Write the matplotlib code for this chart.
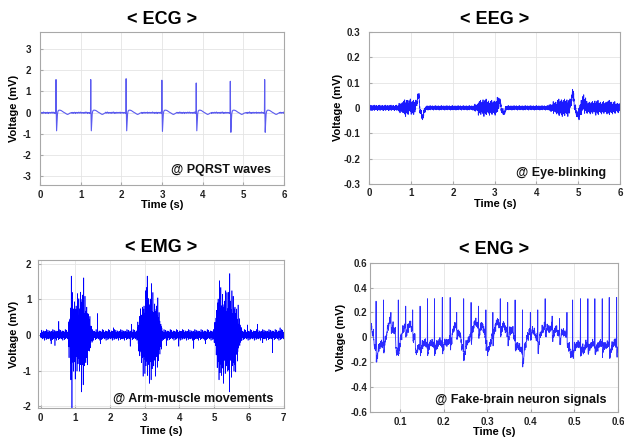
import numpy as np
import matplotlib
matplotlib.use("Agg")
import matplotlib.pyplot as plt

plt.rcParams["font.family"] = ["Liberation Sans", "DejaVu Sans"]
plt.rcParams["axes.unicode_minus"] = False

# wiggle pattern (relative units)
NOISE = [0.12, -0.35, 0.48, -0.08, 0.27, -0.61, 0.05, 0.33, -0.22, 0.91,
         -0.44, 0.16, -0.05, 0.38, -0.73, 0.21, -0.29, 0.07, 0.55, -0.14,
         -0.96, 0.31, -0.18, 0.42, 0.02, -0.51, 0.24, -0.09, 0.67, -0.33,
         0.11, -0.26, 0.84, -0.12, 0.19, -0.58, 0.36, -0.03, -0.41, 0.29,
         0.09, -0.69, 0.47, -0.17, 0.13, -0.31, 1.0, -0.23, 0.04, 0.39,
         -0.86, 0.18, -0.07, 0.26, -0.39, 0.58, -0.15, 0.08, -0.47, 0.34,
         -0.02, 0.22, -0.28, 0.76, -0.54, 0.15, -0.11]
# spikier pattern for the muscle trace: dense core, a few large swings
EMG_NOISE = [0.17, -0.35, 0.11, -0.43, 0.25, -0.07, 0.38, -0.2, 0.04, -0.31,
             0.7, -0.25, 0.13, -0.39, 0.29, -0.1, 0.21, -0.46, 0.07, 0.34,
             -0.15, 0.43, -0.6, 0.2, -0.06, 0.27, -0.36, 0.1, -0.22, 0.41,
             -0.13, 0.31, -0.49, 0.15, 0.03, -0.27, 0.6, -0.18, 0.36, -0.08,
             0.24, -0.41, 0.06, -0.29, 0.46, -0.14, 0.18, -0.8, 0.28, -0.04,
             0.39, -0.24, 0.08, -0.34, 0.22, -0.17, 0.5, -0.11, 0.14, -0.42,
             0.56, -0.21, 0.32, -0.03, 0.17, -0.38, 0.11, -0.28, 0.42, -0.15,
             0.07, -0.32, 0.27, -0.7, 0.35, -0.08, 0.2, -0.45, 0.13, 0.29,
             -0.2, 0.8, -0.25, 0.1, -0.35, 0.22, -0.13, 0.38, -0.56]

# ---- ECG ----
ECG_DT = 0.01
ECG_T_END = 6.0
ECG_NOISE_AMP = 0.04
ECG_BEAT_TIMES = [0.394, 1.248, 2.118, 2.997, 3.842, 4.680, 5.525]
ECG_R_PEAKS = [1.56, 1.56, 1.60, 1.53, 1.40, 1.48, 1.56]
ECG_S_TROUGHS = [-0.85, -0.85, -0.85, -0.88, -0.85, -0.92, -0.92]
# PQRST shape around each R peak: offsets (s) and values (mV); "R"/"S" per beat
ECG_WAVE_OFFSETS = [-0.030, -0.015, -0.006, 0.0, 0.006, 0.014, 0.024, 0.036,
                    0.05, 0.07, 0.10, 0.13, 0.16, 0.19, 0.22, 0.25, 0.28,
                    0.31, 0.34, 0.37]
ECG_WAVE_VALUES = [0.0, -0.04, 0.0, "R", 0.0, "S", -0.45, -0.05,
                   0.08, 0.12, 0.12, 0.10, 0.06, 0.02, -0.01, -0.05, -0.08,
                   -0.06, -0.02, 0.0]

# ---- EEG ----
EEG_DT = 0.002
EEG_BIN = 0.1
EEG_NOISE_AMP = [0.011] * 7 + [0.02, 0.035, 0.03, 0.03, 0.012, 0.012] + \
    [0.009] * 12 + [0.015, 0.03, 0.035, 0.03, 0.03, 0.03, 0.012] + \
    [0.009] * 11 + [0.015, 0.025, 0.035, 0.035, 0.035, 0.02, 0.012] + \
    [0.03, 0.035, 0.025, 0.025, 0.03, 0.025, 0.025, 0.03, 0.025, 0.02]
EEG_SLOW_BIN = 0.05
EEG_SLOW_T = [0.95, 1.10, 1.15, 1.20, 1.25, 1.30, 3.05, 3.10, 3.15, 3.20,
              4.80, 4.85, 4.90, 4.95, 5.00, 5.10, 5.15]
EEG_SLOW_V = [0.008, 0.02, 0.045, -0.015, -0.035, -0.01, 0.012, 0.025,
              -0.012, -0.02, 0.02, 0.055, 0.0, -0.028, -0.018, 0.02, 0.01]

# ---- EMG ----
EMG_DT = 0.002
EMG_T_END = 7.0
EMG_BIN = 0.05
EMG_BASE_AMP = 0.19
EMG_BURST_START = [0.80, 2.80, 5.00]
EMG_BURST_ENV = [
    [0.8, 1.8, 1.7, 1.55, 1.45, 1.45, 1.7, 2.0, 2.0, 1.55, 1.3, 1.05, 0.65, 0.35],
    [0.65, 1.05, 1.3, 1.45, 1.55, 1.9, 1.7, 1.8, 1.7, 1.45, 1.45, 1.3, 0.9, 0.5],
    [0.5, 1.15, 1.8, 1.9, 1.9, 1.7, 1.55, 1.7, 2.0, 1.7, 1.55, 1.7, 1.3, 1.05,
     0.65, 0.35],
]
EMG_SPIKE_T = [0.30, 0.41, 0.52, 0.88, 0.90, 1.64, 1.72, 2.10, 2.58, 2.62,
               3.07, 3.62, 3.98, 4.41, 4.75, 5.45, 5.96, 6.25, 6.40, 6.68,
               6.90]
EMG_SPIKE_V = [-0.25, -0.3, 0.38, 1.65, -2.05, 0.6, -0.25, 0.2, -0.32, 0.3,
               1.65, -0.3, -0.32, -0.38, -0.25, 1.72, 0.28, 0.3, -0.22, -0.5,
               0.2]

# ---- ENG ----
ENG_DT = 0.0005
ENG_T0 = 0.030
ENG_BIN = 0.005
ENG_NOISE_AMP = 0.045
ENG_DRIFT = [0.10, 0.03, -0.08, -0.12, -0.07, -0.06, -0.05, 0.00, 0.08, 0.14,
             0.10, 0.05, -0.12, -0.06, 0.00, 0.06, 0.10, 0.08, 0.10, 0.07,
             0.02, -0.12, -0.08, -0.06, -0.05, -0.05, -0.06, -0.05, -0.05, -0.06,
             -0.05, -0.05, -0.04, -0.05, -0.04, -0.05, -0.03, 0.00, 0.06, 0.10,
             0.06, 0.02, -0.08, -0.10, -0.05, -0.03, 0.02, 0.08, 0.12, 0.10,
             0.08, 0.10, 0.05, -0.02, -0.10, -0.05, 0.02, 0.08, 0.12, 0.10,
             0.08, 0.10, 0.06, 0.02, 0.06, 0.05, 0.00, -0.05, -0.08, -0.10,
             -0.14, -0.06, 0.00, 0.05, 0.06, 0.04, 0.00, -0.03, 0.02, 0.06,
             0.10, 0.08, 0.06, 0.08, 0.05, 0.06, 0.04, 0.02, 0.04, 0.03,
             0.02, -0.06, -0.15, -0.08, -0.07, -0.06, -0.06, -0.07, -0.10, -0.06,
             -0.06, -0.07, -0.05, -0.06, -0.07, -0.06, -0.05, -0.06, -0.07, -0.06,
             -0.10, -0.06, -0.05, -0.06]
ENG_SPIKE_T = [0.045, 0.062, 0.079, 0.096, 0.113, 0.129, 0.146, 0.163, 0.179,
               0.197, 0.215, 0.230, 0.246, 0.263, 0.280, 0.297, 0.313, 0.330,
               0.347, 0.364, 0.381, 0.399, 0.416, 0.433, 0.449, 0.466, 0.483,
               0.496, 0.514, 0.531, 0.547, 0.564, 0.580, 0.597]
ENG_SPIKE_H = [0.29, 0.30, 0.20, 0.30, 0.25, 0.22, 0.25, 0.31, 0.31, 0.32,
               0.32, 0.20, 0.31, 0.28, 0.25, 0.22, 0.20, 0.31, 0.28, 0.30,
               0.22, 0.20, 0.22, 0.31, 0.17, 0.15, 0.20, 0.30, 0.31, 0.31,
               0.31, 0.31, 0.32, 0.32]
ENG_SPIKE_TAIL = [-0.08, -0.07, -0.06, -0.05, -0.04, -0.03, -0.02, -0.01]


def tiled(pattern, n, shift=0):
    return np.roll(np.resize(np.array(pattern, float), n), shift)


def smooth(x, n):
    return np.convolve(x, np.ones(n) / n, mode="same")


def per_bin(bin_len, dt):
    return int(np.floor(bin_len / dt + 0.5))


def ecg_trace():
    grid = np.arange(0, ECG_T_END + ECG_DT / 2, ECG_DT)
    base = ECG_NOISE_AMP * tiled(NOISE, len(grid))
    keep = np.ones(len(grid), bool)
    t_pts, v_pts = [], []
    for bt, r, s in zip(ECG_BEAT_TIMES, ECG_R_PEAKS, ECG_S_TROUGHS):
        keep &= (grid < bt + ECG_WAVE_OFFSETS[0]) | (grid > bt + ECG_WAVE_OFFSETS[-1])
        for off, val in zip(ECG_WAVE_OFFSETS, ECG_WAVE_VALUES):
            t_pts.append(bt + off)
            v_pts.append(r if val == "R" else s if val == "S" else val)
    t = np.concatenate([grid[keep], t_pts])
    v = np.concatenate([base[keep], v_pts])
    order = np.argsort(t)
    return t[order], v[order]


def eeg_trace():
    amp = np.repeat(EEG_NOISE_AMP, per_bin(EEG_BIN, EEG_DT))
    t = np.arange(len(amp)) * EEG_DT
    slow_bins = np.zeros(per_bin(6.0, EEG_SLOW_BIN))
    for st, sv in zip(EEG_SLOW_T, EEG_SLOW_V):
        slow_bins[per_bin(st, EEG_SLOW_BIN)] = sv
    slow = smooth(np.repeat(slow_bins, per_bin(EEG_SLOW_BIN, EEG_DT)), 9)
    return t, slow + amp * tiled(NOISE, len(t), 11)


def emg_trace():
    env = np.full(per_bin(EMG_T_END, EMG_BIN), EMG_BASE_AMP)
    for start, levels in zip(EMG_BURST_START, EMG_BURST_ENV):
        i0 = per_bin(start, EMG_BIN)
        env[i0:i0 + len(levels)] = levels
    amp = np.repeat(env, per_bin(EMG_BIN, EMG_DT))
    t = np.arange(len(amp)) * EMG_DT
    v = amp * tiled(EMG_NOISE, len(t), 5)
    for st, sv in zip(EMG_SPIKE_T, EMG_SPIKE_V):
        v[per_bin(st, EMG_DT)] = sv
    return t, v


def eng_trace():
    drift = smooth(np.repeat(ENG_DRIFT, per_bin(ENG_BIN, ENG_DT)), 4)
    t = ENG_T0 + np.arange(len(drift)) * ENG_DT
    v = drift + ENG_NOISE_AMP * tiled(NOISE, len(t), 23)
    for st, h in zip(ENG_SPIKE_T, ENG_SPIKE_H):
        i = per_bin(st - ENG_T0, ENG_DT)
        if i >= len(v):
            continue
        v[i] = h
        for k, d in enumerate(ENG_SPIKE_TAIL):
            if i + 1 + k < len(v):
                v[i + 1 + k] += d
    return t, v


PANELS = [
    dict(title="< ECG >", note="@ PQRST waves", trace=ecg_trace,
         rect=[0.0641, 0.5805, 0.391, 0.347], color="#5b5bf0", lw=0.8,
         xlim=(0, 6), ylim=(-3.4, 3.8),
         xticks=[0, 1, 2, 3, 4, 5, 6], xlabels=["0", "1", "2", "3", "4", "5", "6"],
         yticks=[-3, -2, -1, 0, 1, 2, 3], ylabels=["-3", "-2", "-1", "0", "1", "2", "3"],
         note_xy=(0.945, 0.078), xlab_y=-0.10, ylab_x=-0.088, ypad=6.5, xpad=3.5),
    dict(title="< EEG >", note="@ Eye-blinking", trace=eeg_trace,
         rect=[0.5921, 0.5828, 0.4014, 0.345], color="#1a1aff", lw=0.6,
         xlim=(0, 6), ylim=(-0.3, 0.295),
         xticks=[0, 1, 2, 3, 4, 5, 6], xlabels=["0", "1", "2", "3", "4", "5", "6"],
         yticks=[-0.3, -0.2, -0.1, 0, 0.1, 0.2, 0.3],
         ylabels=["-0.3", "-0.2", "-0.1", "0", "0.1", "0.2", "0.3"],
         note_xy=(0.944, 0.055), xlab_y=-0.10, ylab_x=-0.107, ypad=6.5, xpad=3.0),
    dict(title="< EMG >", note="@ Arm-muscle movements", trace=emg_trace,
         rect=[0.0614, 0.0748, 0.393, 0.3356], color="#0000ff", lw=0.45,
         xlim=(-0.07, 7), ylim=(-2.05, 2.1),
         xticks=[0, 1, 2, 3, 4, 5, 6, 7],
         xlabels=["0", "1", "2", "3", "4", "5", "6", "7"],
         yticks=[-2, -1, 0, 1, 2], ylabels=["-2", "-1", "0", "1", "2"],
         note_xy=(0.958, 0.043), xlab_y=-0.12, ylab_x=-0.079, ypad=5.0, xpad=3.5),
    dict(title="< ENG >", note="@ Fake-brain neuron signals", trace=eng_trace,
         rect=[0.5929, 0.0664, 0.3974, 0.3379], color="#2a2aff", lw=0.6,
         xlim=(0.031, 0.6), ylim=(-0.6, 0.6),
         xticks=[0.1, 0.2, 0.3, 0.4, 0.5, 0.6],
         xlabels=["0.1", "0.2", "0.3", "0.4", "0.5", "0.6"],
         yticks=[-0.6, -0.4, -0.2, 0, 0.2, 0.4, 0.6],
         ylabels=["-0.6", "-0.4", "-0.2", "0", "0.2", "0.4", "0.6"],
         note_xy=(0.952, 0.056), xlab_y=-0.10, ylab_x=-0.096, ypad=2.0, xpad=4.0),
]


def main():
    fig = plt.figure(figsize=(6.24, 4.41), dpi=100)
    for p in PANELS:
        ax = fig.add_axes(p["rect"])
        t, v = p["trace"]()
        ax.plot(t, v, color=p["color"], lw=p["lw"])
        ax.set_xlim(*p["xlim"])
        ax.set_ylim(*p["ylim"])
        ax.set_xticks(p["xticks"])
        ax.set_xticklabels(p["xlabels"])
        ax.set_yticks(p["yticks"])
        ax.set_yticklabels(p["ylabels"])
        ax.grid(True, color="#e4e4e4", lw=0.6)
        ax.set_axisbelow(True)
        for sp in ax.spines.values():
            sp.set_color("#a8a8a8")
            sp.set_linewidth(0.8)
        ax.tick_params(axis="both", direction="in", length=2, color="#a8a8a8",
                       labelsize=7, labelcolor="#222222")
        ax.tick_params(axis="y", pad=p["ypad"])
        ax.tick_params(axis="x", pad=p["xpad"])
        for lab in ax.get_xticklabels() + ax.get_yticklabels():
            lab.set_fontweight("bold")
        ax.set_title(p["title"], fontsize=13, fontweight="bold", pad=6)
        ax.set_xlabel("Time (s)", fontsize=8, fontweight="bold")
        ax.set_ylabel("Voltage (mV)", fontsize=8, fontweight="bold")
        ax.xaxis.set_label_coords(0.5, p["xlab_y"])
        ax.yaxis.set_label_coords(p["ylab_x"], 0.5)
        ax.text(p["note_xy"][0], p["note_xy"][1], p["note"], transform=ax.transAxes,
                ha="right", va="baseline", fontsize=9, fontweight="bold",
                color="#111111")
    fig.savefig("out.png", dpi=100, facecolor="white")
    plt.close(fig)


if __name__ == "__main__":
    main()
